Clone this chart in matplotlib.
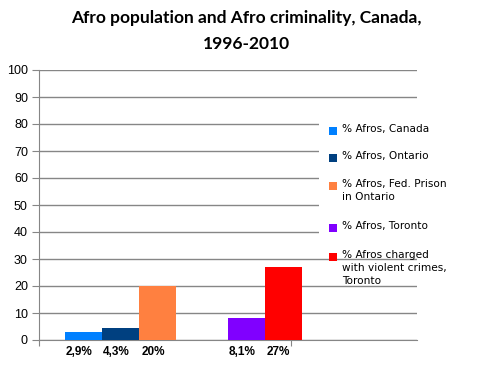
import matplotlib.pyplot as plt
from matplotlib.patches import Rectangle

series = ["% Afros, Canada", "% Afros, Ontario", "% Afros, Fed. Prison\nin Ontario",
          "% Afros, Toronto", "% Afros charged\nwith violent crimes,\nToronto"]
values = [2.9, 4.3, 20, 8.1, 27]
value_labels = ["2,9%", "4,3%", "20%", "8,1%", "27%"]
groups = [0, 0, 0, 1, 1]
colors = ["#0080FF", "#004080", "#FF8040", "#8000FF", "#FF0000"]

W, H = 492, 370
fig = plt.figure(figsize=(W / 100, H / 100), dpi=100)
ax = fig.add_axes([39 / W, 30 / H, 378 / W, 270 / H])

xs = [1.2 + i + g * 1.4 for i, g in enumerate(groups)]
ax.bar(xs, values, width=1.0, color=colors, zorder=3)

ax.set_xlim(0, 378 / 37)
ax.set_ylim(0, 100)
ax.set_yticks(range(0, 101, 10))
ax.yaxis.grid(True, color="#868686", linewidth=1)
ax.set_axisbelow(True)
for s in ["top", "right"]:
    ax.spines[s].set_visible(False)
ax.spines["left"].set_color("#868686")
ax.spines["bottom"].set_color("#868686")
ax.tick_params(axis="y", length=5, color="#868686", labelsize=9, pad=3)
ax.set_xticks([0, 6.8])
ax.set_xticklabels(["", ""])
ax.tick_params(axis="x", length=4, color="#868686")
for lab in ax.get_yticklabels():
    lab.set_family("Liberation Sans")

for x, t in zip(xs, value_labels):
    ax.text(x - 0.12, -4.5, t, ha="center", va="center", fontsize=8.5,
            fontweight="bold", family="Liberation Sans")

fig.text(0.5, 1 - 18 / H, "Afro population and Afro criminality, Canada,",
         ha="center", va="center", fontsize=12.5, fontweight="bold", family="Lato")
fig.text(0.5, 1 - 44 / H, "1996-2010", ha="center", va="center",
         fontsize=12.5, fontweight="bold", family="Lato")

# legend drawn by hand, white box over the grid like the original
fig.patches.append(Rectangle((319 / W, 1 - 252 / H), 99 / W, 140 / H,
                             transform=fig.transFigure, facecolor="white",
                             edgecolor="none", zorder=2))
leg_y = [131, 158, 186, 228, 257]
for y, lab, c in zip(leg_y, series, colors):
    fig.patches.append(Rectangle((329 / W, 1 - (y + 4) / H), 8 / W, 8 / H,
                                 transform=fig.transFigure, facecolor=c,
                                 edgecolor="none", zorder=3))
    fig.text(342 / W, 1 - (y - 7) / H, lab, ha="left", va="top", fontsize=7.6,
             family="DejaVu Sans", linespacing=1.35, zorder=4)

fig.savefig("out.png", dpi=100)
